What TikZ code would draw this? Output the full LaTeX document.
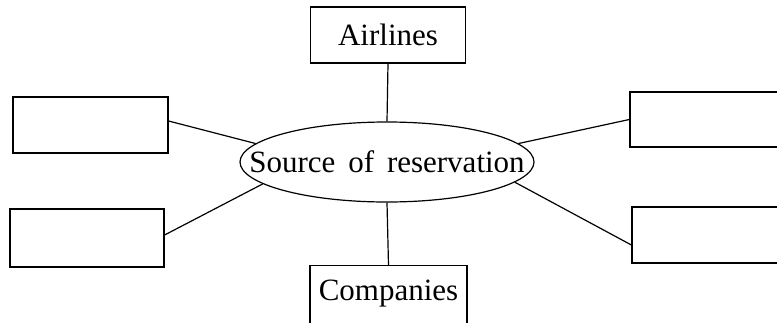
\documentclass[tikz,border=0pt]{standalone}
\usepackage{fontspec}
\setmainfont{Liberation Serif}
\usetikzlibrary{shapes.geometric}
\begin{document}
\begin{tikzpicture}[x=1pt,y=-1pt,
  every node/.style={font=\fontsize{31}{37}\selectfont, line width=1.2pt},
  box/.style={draw, rectangle, inner sep=0pt, minimum width=155pt, minimum height=56pt},
  hub/.style={draw, ellipse, inner sep=0pt, minimum width=294pt, minimum height=80pt},
  link/.style={draw, line width=1.2pt}]
\useasboundingbox (0,0) rectangle (777,322);
\clip (0,0) rectangle (777,322);
\node[hub] (src) at (387,162) {\makebox[0pt]{Source\, of\, reservation}};
\node[box] (air) at (388,35) {Airlines};
\node[box, minimum width=157pt, text height=35pt, text depth=30pt, anchor=north] (comp) at (388.5,265) {Companies};
\node[box] (tl) at (90.5,125) {};
\node[box, minimum width=154pt, minimum height=58pt] (bl) at (87,238) {};
\node[box, minimum height=55pt] (tr) at (707.5,119.5) {};
\node[box] (br) at (709.5,235) {};
\path[link] (air.south) -- (src.north);
\path[link] (src.south) -- (comp.north);
\path[link] ([yshift=4pt]tl.east) -- (src.172);
\path[link] ([yshift=3pt]bl.east) -- (src.190);
\path[link] (tr.west) -- (src.8);
\path[link] ([yshift=-10pt]br.west) -- (src.-9);
\end{tikzpicture}
\end{document}
